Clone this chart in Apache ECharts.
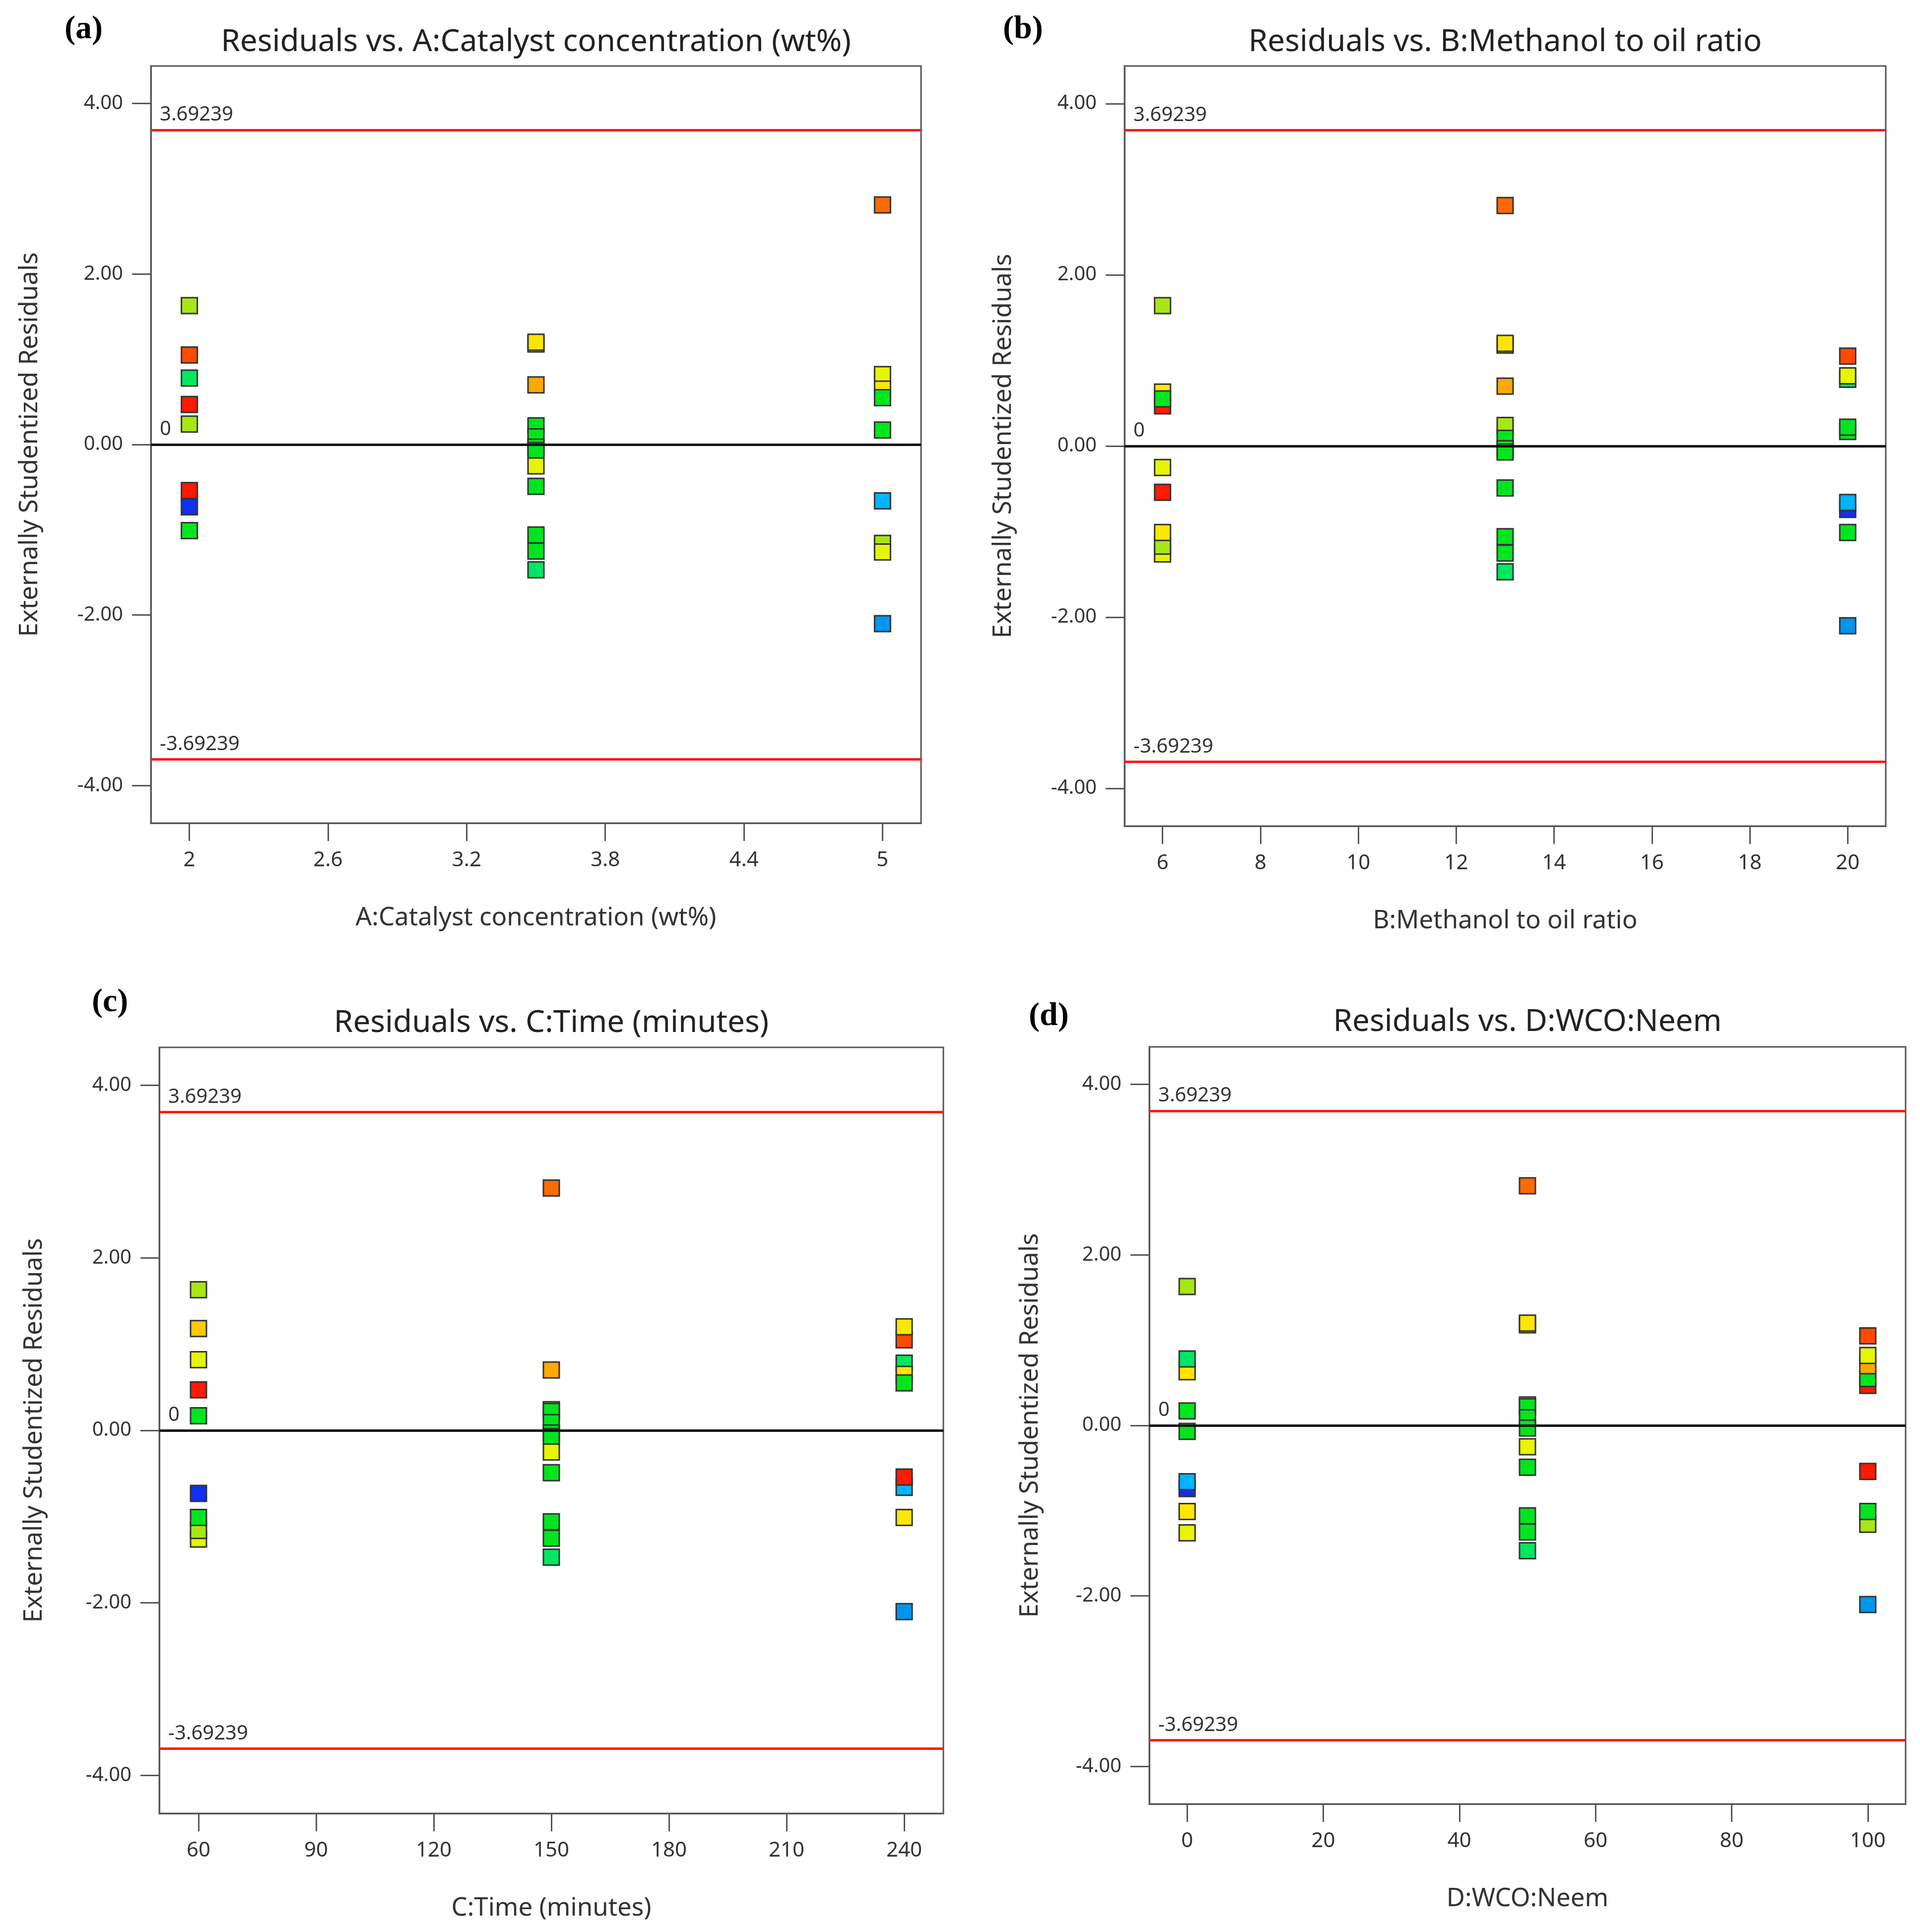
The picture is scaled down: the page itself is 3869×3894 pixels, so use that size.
<!DOCTYPE html>
<html>
<head>
<meta charset="utf-8">
<script src="https://cdn.jsdelivr.net/npm/echarts@6/dist/echarts.min.js"></script>
<style>
  html, body { margin: 0; padding: 0; background: #fff; }
  #chart { width: 3869px; height: 3894px; }
</style>
</head>
<body>
<div id="chart"></div>
<script>
// residual limits shown on every panel
const limitHigh = 3.69239;
const limitLow = -3.69239;
const yTicks = [-4, -2, 0, 2, 4];

// tone of each run (response band colour used by the software)
const tonePalette = {
  yg: "#a8e614", ro: "#ff4a00", rd: "#ff1a00", or: "#ff6a00", am: "#ffa800",
  ya: "#ffc800", yl: "#ffe600", lm: "#e6f500", gn: "#00e61e", gc: "#00e862",
  cy: "#00b4ff", cb: "#0096ee", bl: "#1030f0"
};

// (a) A:Catalyst concentration
const ticksA = [2, 2.6, 3.2, 3.8, 4.4, 5];
const xA = [2, 2, 2, 2, 2, 2, 2, 2, 2,
  3.5, 3.5, 3.5, 3.5, 3.5, 3.5, 3.5, 3.5, 3.5, 3.5, 3.5, 3.5,
  5, 5, 5, 5, 5, 5, 5, 5, 5];
const resA = [1.63, 1.05, 0.78, 0.47, 0.24, -0.54, -0.73, -1.01, -1.01,
  1.18, 1.2, 0.7, 0.22, 0.09, -0.03, -0.07, -0.25, -0.49, -1.06, -1.25, -1.47,
  2.81, 0.82, 0.65, 0.55, 0.17, -0.66, -1.16, -1.26, -2.1];
const toneA = ["yg", "ro", "gc", "rd", "yg", "rd", "bl", "yl", "gn",
  "ya", "yl", "am", "gn", "gn", "gn", "gn", "lm", "gn", "gn", "gn", "gc",
  "or", "lm", "yl", "gn", "gn", "cy", "yg", "lm", "cb"];

// (b) B:Methanol to oil ratio
const ticksB = [6, 8, 10, 12, 14, 16, 18, 20];
const xB = [6, 6, 6, 6, 6, 6, 6, 6, 6,
  13, 13, 13, 13, 13, 13, 13, 13, 13, 13, 13, 13,
  20, 20, 20, 20, 20, 20, 20, 20, 20];
const resB = [1.64, 0.47, 0.63, 0.55, -0.25, -0.54, -1.26, -1.17, -1.01,
  2.81, 1.18, 1.2, 0.7, 0.24, 0.09, -0.03, -0.07, -0.49, -1.06, -1.25, -1.47,
  1.05, 0.78, 0.82, 0.17, 0.22, -0.74, -0.66, -1.01, -2.1];
const toneB = ["yg", "rd", "yl", "gn", "lm", "rd", "lm", "yg", "yl",
  "or", "ya", "yl", "am", "yg", "gn", "gn", "gn", "gn", "gn", "gn", "gc",
  "ro", "gc", "lm", "gn", "gn", "bl", "cy", "gn", "cb"];

// (c) C:Time
const ticksC = [60, 90, 120, 150, 180, 210, 240];
const xC = [60, 60, 60, 60, 60, 60, 60, 60, 60,
  150, 150, 150, 150, 150, 150, 150, 150, 150, 150, 150, 150,
  240, 240, 240, 240, 240, 240, 240, 240, 240];
const resC = [1.63, 1.18, 0.82, 0.47, 0.17, -0.73, -1.26, -1.16, -1.01,
  2.81, 0.7, 0.24, 0.22, 0.09, -0.03, -0.07, -0.25, -0.49, -1.06, -1.25, -1.47,
  1.05, 1.2, 0.78, 0.65, 0.55, -0.66, -0.54, -1.01, -2.1];
const toneC = ["yg", "ya", "lm", "rd", "gn", "bl", "lm", "yg", "gn",
  "or", "am", "yg", "gn", "gn", "gn", "gn", "lm", "gn", "gn", "gn", "gc",
  "ro", "yl", "gc", "yl", "gn", "cy", "rd", "yl", "cb"];

// (d) D:WCO:Neem
const ticksD = [0, 20, 40, 60, 80, 100];
const xD = [0, 0, 0, 0, 0, 0, 0, 0, 0,
  50, 50, 50, 50, 50, 50, 50, 50, 50, 50, 50, 50,
  100, 100, 100, 100, 100, 100, 100, 100, 100];
const resD = [1.63, 0.63, 0.78, 0.17, -0.07, -0.74, -0.66, -1.01, -1.26,
  2.81, 1.18, 1.2, 0.24, 0.22, 0.09, -0.03, -0.25, -0.49, -1.06, -1.25, -1.47,
  1.05, 0.47, 0.55, 0.7, 0.82, -0.54, -1.16, -1.01, -2.1];
const toneD = ["yg", "yl", "gc", "gn", "gn", "bl", "cy", "yl", "lm",
  "or", "ya", "yl", "yg", "gn", "gn", "gn", "lm", "gn", "gn", "gn", "gc",
  "ro", "rd", "gn", "am", "lm", "rd", "yg", "gn", "cb"];

const panels = [
  { letter: "(a)", title: "Residuals vs. A:Catalyst concentration (wt%)", xName: "A:Catalyst concentration (wt%)",
    x: xA, res: resA, tone: toneA, ticks: ticksA, min: 1.8333, max: 5.1667,
    grid: { left: 304, top: 133, width: 1552, height: 1526 }, letterPos: [130, 60], titleY: 85, yGap: 218 },
  { letter: "(b)", title: "Residuals vs. B:Methanol to oil ratio", xName: "B:Methanol to oil ratio",
    x: xB, res: resB, tone: toneB, ticks: ticksB, min: 5.2222, max: 20.7778,
    grid: { left: 2266, top: 133, width: 1534, height: 1532 }, letterPos: [2021, 60], titleY: 85, yGap: 218 },
  { letter: "(c)", title: "Residuals vs. C:Time (minutes)", xName: "C:Time (minutes)",
    x: xC, res: resC, tone: toneC, ticks: ticksC, min: 50, max: 250,
    grid: { left: 321, top: 2111, width: 1580, height: 1544 }, letterPos: [185, 2021], titleY: 2062, yGap: 226 },
  { letter: "(d)", title: "Residuals vs. D:WCO:Neem", xName: "D:WCO:Neem",
    x: xD, res: resD, tone: toneD, ticks: ticksD, min: -5.5556, max: 105.5556,
    grid: { left: 2316, top: 2110, width: 1524, height: 1526 }, letterPos: [2073, 2049], titleY: 2060, yGap: 214 }
];

const chart = echarts.init(document.getElementById("chart"));

const axisColor = "#555";
const textColor = "#333";

const grids = [], xAxes = [], yAxes = [], series = [], graphics = [];

panels.forEach((p, i) => {
  grids.push(Object.assign({ show: true, borderColor: axisColor, borderWidth: 3,
    containLabel: false, outerBoundsMode: "none" }, p.grid));

  xAxes.push({
    type: "value", gridIndex: i, min: p.min, max: p.max,
    name: p.xName, nameLocation: "middle", nameGap: 166,
    nameTextStyle: { fontSize: 51, color: textColor },
    axisLine: { show: true, onZero: false, lineStyle: { color: axisColor, width: 3 } },
    axisTick: { show: true, inside: false, length: 36, customValues: p.ticks,
      lineStyle: { color: axisColor, width: 3 } },
    axisLabel: { customValues: p.ticks, fontSize: 42, color: textColor, margin: 54 },
    splitLine: { show: false }
  });

  yAxes.push({
    type: "value", gridIndex: i, min: -4.44, max: 4.44,
    name: "Externally Studentized Residuals", nameLocation: "middle", nameGap: p.yGap,
    nameTextStyle: { fontSize: 51, color: textColor },
    axisLine: { show: true, onZero: false, lineStyle: { color: axisColor, width: 3 } },
    axisTick: { show: true, inside: false, length: 38, customValues: yTicks,
      lineStyle: { color: axisColor, width: 3 } },
    axisLabel: { customValues: yTicks, fontSize: 40, color: textColor, margin: 56,
      formatter: v => v.toFixed(2) },
    splitLine: { show: false }
  });

  series.push({
    type: "scatter", xAxisIndex: i, yAxisIndex: i, z: 2,
    symbol: "rect", symbolSize: 32,
    itemStyle: { borderColor: "#333", borderWidth: 3, opacity: 1 },
    data: p.x.map((xv, k) => ({ value: [xv, p.res[k]], itemStyle: { color: tonePalette[p.tone[k]] } }))
  });

  const refLabel = { show: true, position: "insideStartTop", distance: [18, 10],
    fontSize: 40, color: textColor, formatter: "{b}" };
  series.push({
    type: "line", xAxisIndex: i, yAxisIndex: i, z: 3, data: [],
    markLine: {
      silent: true, symbol: "none", animation: false,
      data: [
        { name: "3.69239", yAxis: limitHigh, lineStyle: { color: "#ff1a1a", width: 5, type: "solid" }, label: refLabel },
        { name: "-3.69239", yAxis: limitLow, lineStyle: { color: "#ff1a1a", width: 5, type: "solid" }, label: refLabel },
        { name: "0", yAxis: 0, lineStyle: { color: "#111", width: 5, type: "solid" }, label: refLabel }
      ]
    }
  });

  graphics.push({
    type: "text", x: p.grid.left + p.grid.width / 2, y: p.titleY,
    style: { text: p.title, fontSize: 62, fill: "#222", align: "center", verticalAlign: "middle",
      fontFamily: "Noto Sans" }
  });
  graphics.push({
    type: "text", x: p.letterPos[0], y: p.letterPos[1],
    style: { text: p.letter, fontSize: 66, fontWeight: "bold", fill: "#000", align: "left",
      verticalAlign: "middle", fontFamily: "Liberation Serif" }
  });
});

chart.setOption({
  animation: false,
  backgroundColor: "#fff",
  textStyle: { fontFamily: "Noto Sans" },
  grid: grids,
  xAxis: xAxes,
  yAxis: yAxes,
  series: series,
  graphic: graphics
});
</script>
</body>
</html>
